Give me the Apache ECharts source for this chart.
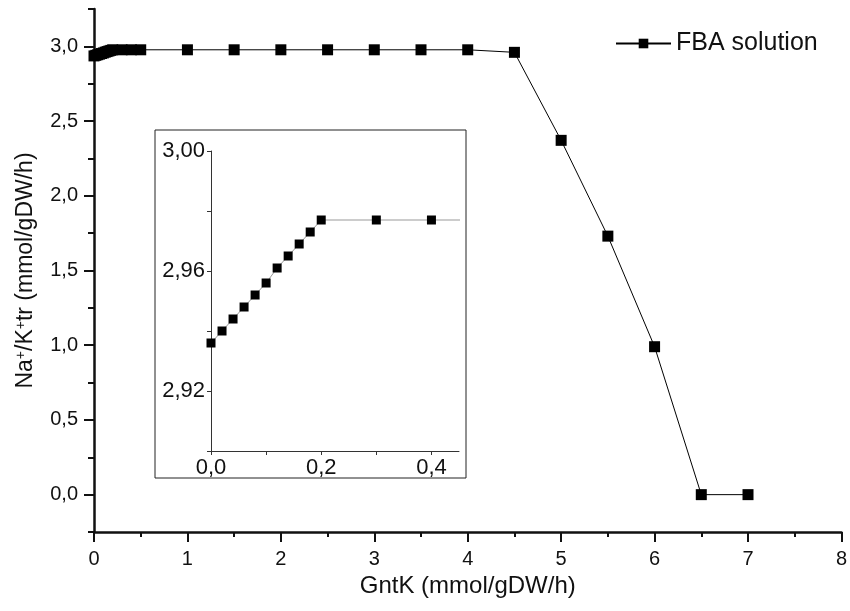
<!DOCTYPE html>
<html>
<head>
<meta charset="utf-8">
<script src="https://cdn.jsdelivr.net/npm/echarts@6/dist/echarts.min.js"></script>
<style>
  html, body { margin: 0; padding: 0; background: #fff; }
  #main { width: 850px; height: 611px; }
</style>
</head>
<body>
<div id="main"></div>
<script>
// GntK flux values and the FBA solution for Na+/K+ transport
var gntk = [0, 0.02, 0.04, 0.06, 0.08, 0.10, 0.12, 0.14, 0.16, 0.18, 0.20, 0.3, 0.4, 0.5,
            1, 1.5, 2, 2.5, 3, 3.5, 4, 4.5, 5, 5.5, 6, 6.5, 7];
var natk = [2.936, 2.940, 2.944, 2.948, 2.952, 2.956, 2.961, 2.965, 2.969, 2.973, 2.977, 2.977, 2.977, 2.977,
            2.977, 2.977, 2.977, 2.977, 2.977, 2.977, 2.977, 2.96, 2.371, 1.73, 0.99, 0, 0];

// tick positions
var xMajor = [0, 1, 2, 3, 4, 5, 6, 7, 8];
var xMinor = [0.5, 1.5, 2.5, 3.5, 4.5, 5.5, 6.5, 7.5];
var yMajor = [0, 0.5, 1, 1.5, 2, 2.5, 3];
var yMinor = [-0.25, 0.25, 0.75, 1.25, 1.75, 2.25, 2.75, 3.25];
var insetXLabels = [0, 0.2, 0.4];
var insetXTicks = [0, 0.1, 0.2, 0.3, 0.4];
var insetYLabels = [2.92, 2.96, 3.00];
var insetYTicks = [2.90, 2.92, 2.94, 2.96, 2.98, 3.00];

var points = gntk.map(function (x, i) { return [x, natk[i]]; });

function comma(d) {
    return function (v) { return v.toFixed(d).replace('.', ','); };
}

var dom = document.getElementById('main');
var myChart = echarts.init(dom);

var fontFamily = 'Liberation Sans, Arial, sans-serif';
var black = '#111';

var option = {
    animation: false,
    textStyle: { fontFamily: fontFamily, color: black },
    grid: [
        { left: 94, right: 5, top: 9, bottom: 79 },
        { left: 211, right: 391, top: 151, bottom: 160 }
    ],
    legend: {
        data: ['FBA solution'],
        left: 610,
        top: 26,
        itemWidth: 55,
        itemHeight: 12,
        textStyle: { fontSize: 25, color: black, fontFamily: fontFamily }
    },
    graphic: [{
        type: 'rect',
        shape: { x: 155, y: 130, width: 311, height: 348 },
        style: { fill: 'none', stroke: '#222', lineWidth: 1 },
        z: 0
    }],
    xAxis: [
        {
            type: 'value', gridIndex: 0, position: 'bottom', min: 0, max: 8,
            name: 'GntK (mmol/gDW/h)', nameLocation: 'middle', nameGap: 36,
            nameTextStyle: { fontSize: 24, color: black },
            axisLine: { onZero: false, lineStyle: { color: black, width: 2.5 } },
            axisTick: { customValues: xMinor, length: 5, lineStyle: { color: black, width: 2 } },
            axisLabel: { customValues: xMajor, fontSize: 20, color: black, margin: 17 },
            splitLine: { show: false }
        },
        {
            type: 'value', gridIndex: 0, position: 'bottom', min: 0, max: 8,
            axisLine: { show: false, onZero: false },
            axisTick: { customValues: xMajor, length: 10, lineStyle: { color: black, width: 2 } },
            axisLabel: { show: false },
            splitLine: { show: false }
        },
        {
            type: 'value', gridIndex: 1, position: 'bottom', min: 0, max: 0.45,
            axisLine: { onZero: false, lineStyle: { color: '#333', width: 1 } },
            axisTick: { customValues: insetXTicks, length: 4, lineStyle: { color: '#333' } },
            axisLabel: { customValues: insetXLabels, formatter: comma(1), fontSize: 22, color: black, margin: 6 },
            splitLine: { show: false }
        }
    ],
    yAxis: [
        {
            type: 'value', gridIndex: 0, position: 'left', min: -0.25, max: 3.25,
            name: '{b|Na}{s|+}{b|/K}{s|+}{b|tr (mmol/gDW/h)}',
            nameLocation: 'middle', nameGap: 57,
            nameTextStyle: {
                color: black,
                rich: {
                    b: { fontSize: 23, color: black, fontFamily: fontFamily },
                    s: { fontSize: 14, color: black, fontFamily: fontFamily, verticalAlign: 'top' }
                }
            },
            axisLine: { onZero: false, lineStyle: { color: black, width: 2.5 } },
            axisTick: { customValues: yMinor, length: 6, lineStyle: { color: black, width: 2 } },
            axisLabel: { customValues: yMajor, formatter: comma(1), fontSize: 20, color: black, margin: 16 },
            splitLine: { show: false }
        },
        {
            type: 'value', gridIndex: 0, position: 'left', min: -0.25, max: 3.25,
            axisLine: { show: false, onZero: false },
            axisTick: { customValues: yMajor, length: 10, lineStyle: { color: black, width: 2 } },
            axisLabel: { show: false },
            splitLine: { show: false }
        },
        {
            type: 'value', gridIndex: 1, position: 'left', min: 2.90, max: 3.00,
            axisLine: { onZero: false, lineStyle: { color: '#333', width: 1 } },
            axisTick: { customValues: insetYTicks, length: 4, lineStyle: { color: '#333' } },
            axisLabel: { customValues: insetYLabels, formatter: comma(2), fontSize: 22, color: black, margin: 6 },
            splitLine: { show: false }
        }
    ],
    series: [
        {
            name: 'FBA solution',
            type: 'line',
            xAxisIndex: 0, yAxisIndex: 0,
            data: points,
            symbol: 'rect',
            symbolSize: 11,
            itemStyle: { color: '#000' },
            lineStyle: { color: '#000', width: 1 }
        },
        {
            name: 'inset',
            type: 'line',
            xAxisIndex: 2, yAxisIndex: 2,
            data: points,
            clip: true,
            symbol: 'rect',
            symbolSize: 9,
            itemStyle: { color: '#000' },
            lineStyle: { color: '#999', width: 1 }
        }
    ]
};

myChart.setOption(option, true);
</script>
</body>
</html>
